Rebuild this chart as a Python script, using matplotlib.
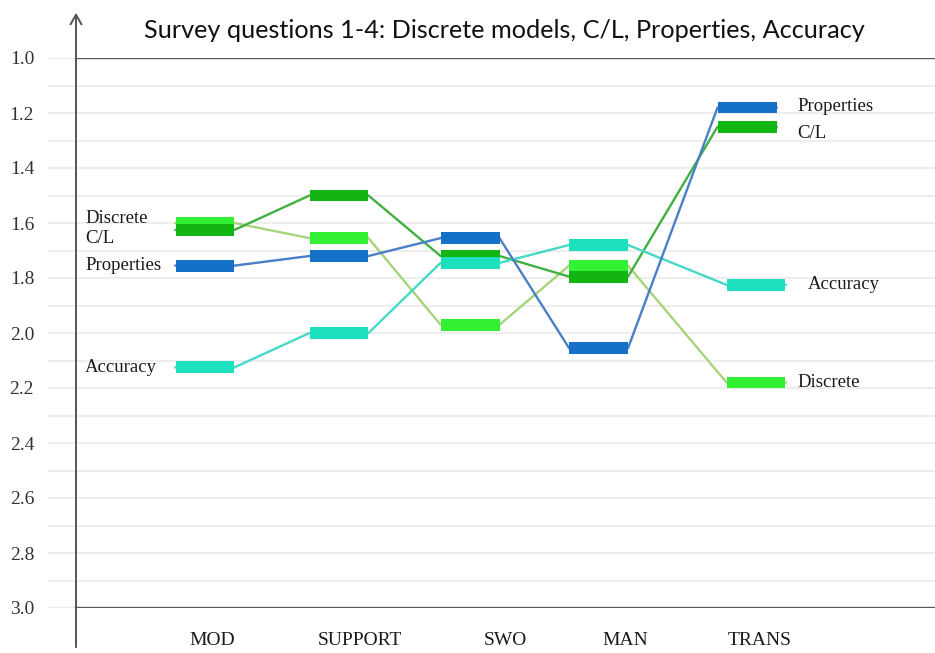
import matplotlib
matplotlib.use("Agg")
import matplotlib.pyplot as plt
import numpy as np

# ---- data ----
categories = ["MOD", "SUPPORT", "SWO", "MAN", "TRANS"]
discrete   = [1.60, 1.655, 1.97, 1.755, 2.18]
cl         = [1.625, 1.50, 1.72, 1.795, 1.25]
properties = [1.755, 1.72, 1.655, 2.055, 1.18]
accuracy   = [2.125, 2.00, 1.745, 1.68, 1.825]
y_ticks    = [1.0, 1.2, 1.4, 1.6, 1.8, 2.0, 2.2, 2.4, 2.6, 2.8, 3.0]
title_text = "Survey questions 1-4: Discrete models, C/L, Properties, Accuracy"

# ---- layout / style ----
W, H, DPI = 935, 653, 100
fig = plt.figure(figsize=(W / DPI, H / DPI), dpi=DPI)
fig.patch.set_facecolor("white")

ax_left_px, ax_right_px, ax_top_px, ax_bot_px = 48, 935, 58, 608
ax = fig.add_axes([ax_left_px / W, (H - ax_bot_px) / H,
                   (ax_right_px - ax_left_px) / W, (ax_bot_px - ax_top_px) / H])
unit_px = 134.0
origin_px = 205.0
px2u = lambda p: (p - origin_px) / unit_px
ax.set_xlim(px2u(ax_left_px), px2u(ax_right_px))
ax.set_ylim(3.0, 1.0)
for s in ax.spines.values():
    s.set_visible(False)

x_centers = np.array([0.0, 1.0, 1.978, 2.937, 4.045])
label_x = [0.052, 1.157, 2.24, 3.134, 4.142]
half_w = 0.22
bar_h = 0.043

# grid
xl = ax.get_xlim()
for g in np.arange(1.0, 3.01, 0.1):
    ax.plot(xl, [g, g], color="#eeeeee", lw=1.6, zorder=0.5, solid_capstyle="butt")
axis_u = px2u(76)
for g in (1.0, 3.0):
    ax.plot([axis_u, xl[1]], [g, g], color="#5a5a5a", lw=1.7, zorder=1)

series = [
    ("Discrete", discrete, "#33f033", "#a6d47a", [0, 0, 0, 0, 0.067]),
    ("C/L", cl, "#13b513", "#40b040", [0, 0, 0, 0, 0]),
    ("Accuracy", accuracy, "#1de0bf", "#45d9c6", [0, 0, 0, 0, 0.067]),
    ("Properties", properties, "#1570c8", "#4a7fc8", [0, 0, 0, 0, 0]),
]

for i, (name, vals, bc, lc, sh) in enumerate(series):
    xs = x_centers + np.array(sh)
    px, py = [], []
    for x, v in zip(xs, vals):
        px += [x - half_w, x + half_w]
        py += [v, v]
    ax.plot(px, py, color=lc, lw=1.7, zorder=2 + i * 0.1)
    ax.barh(vals, 2 * half_w, left=xs - half_w, height=bar_h, color=bc,
            zorder=3 + i * 0.1)

# series labels
serif = "Liberation Serif"
lab_fs = 13.5
left_offsets = {"Discrete": -0.018, "C/L": 0.03, "Properties": 0.0, "Accuracy": 0.0}
right_offsets = {"Discrete": 0.0, "C/L": 0.026, "Properties": -0.002, "Accuracy": -0.003}
right_x = {"Discrete": px2u(797), "C/L": px2u(797), "Properties": px2u(797), "Accuracy": px2u(808)}
for name, vals, bc, lc, sh in series:
    ax.text(px2u(85), vals[0] + left_offsets[name], name, family=serif, fontsize=lab_fs,
            color="#1a1a1a", va="center", ha="left", zorder=5)
    ax.text(right_x[name], vals[-1] + right_offsets[name], name, family=serif,
            fontsize=lab_fs, color="#1a1a1a", va="center", ha="left", zorder=5)

# ticks
ax.set_yticks(y_ticks)
ax.set_yticklabels([f"{t:.1f}" for t in y_ticks], family=serif, fontsize=14, color="#333333")
ax.tick_params(axis="y", length=0, pad=10)
ax.set_xticks(label_x)
ax.set_xticklabels(categories, family=serif, fontsize=14, color="#1a1a1a")
ax.tick_params(axis="x", length=0, pad=17)

# vertical axis with arrow
ax.annotate("", xy=(76, H - 10), xycoords="figure pixels",
            xytext=(76, H - 650), textcoords="figure pixels",
            arrowprops=dict(arrowstyle="->,head_length=0.7,head_width=0.4",
                            color="#555555", lw=1.4))

fig.text(504 / W, 1 - 30 / H, title_text, family="Lato", fontsize=18.2,
         color="#111111", ha="center", va="center")

fig.savefig("out.png", dpi=DPI, facecolor="white")
